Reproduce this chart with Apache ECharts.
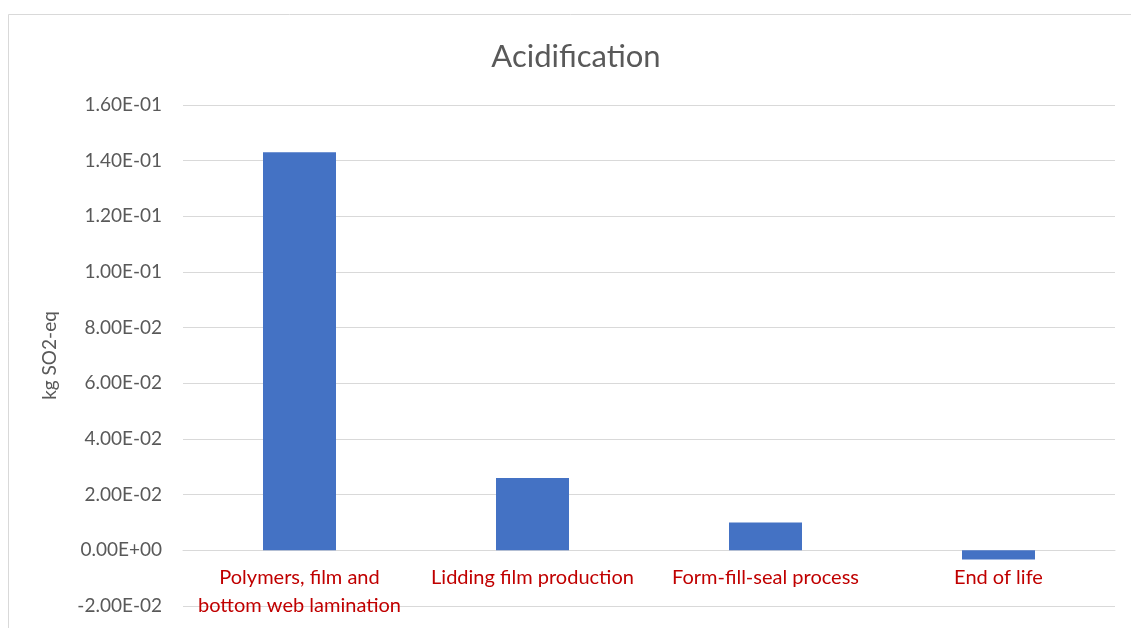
<!DOCTYPE html>
<html>
<head>
<meta charset="utf-8">
<script src="https://cdn.jsdelivr.net/npm/echarts@6/dist/echarts.min.js"></script>
<style>
  html, body { margin: 0; padding: 0; background: #fff; }
  #chart { width: 1131px; height: 628px; }
</style>
</head>
<body>
<div id="chart"></div>
<script>
// Life-cycle stages and their acidification impact (kg SO2-eq)
const stages = [
  'Polymers, film and\nbottom web lamination',
  'Lidding film production',
  'Form-fill-seal process',
  'End of life'
];
const acidification = [0.143, 0.026, 0.010, -0.0033];

const FONT = 'Lato, "Open Sans", sans-serif';

const chart = echarts.init(document.getElementById('chart'));
chart.setOption({
  backgroundColor: '#ffffff',
  animation: false,
  graphic: [{
    type: 'rect',
    shape: { x: 8.5, y: 14.5, width: 1140, height: 640 },
    style: { fill: 'none', stroke: '#d9d9d9', lineWidth: 1 },
    silent: true
  }],
  title: {
    text: 'Acidification',
    left: 571,
    top: 36,
    textAlign: 'center',
    textStyle: { fontFamily: FONT, fontSize: 31, fontWeight: 'normal', color: '#595959' }
  },
  grid: { left: 183, right: 16, top: 105, bottom: 22, containLabel: false, outerBoundsMode: 'none' },
  xAxis: {
    type: 'category',
    data: stages,
    axisLine: { onZero: true, lineStyle: { color: '#d9d9d9', width: 1 } },
    axisTick: { show: false },
    axisLabel: {
      color: '#c00000',
      fontFamily: FONT,
      fontSize: 20,
      lineHeight: 28,
      // labels sit just under the zero line rather than under the plot
      margin: -42,
      verticalAlign: 'top',
      interval: 0
    }
  },
  yAxis: {
    type: 'value',
    min: -0.02,
    max: 0.16,
    interval: 0.02,
    name: 'kg SO2-eq',
    nameLocation: 'middle',
    nameGap: 124,
    nameTextStyle: { fontFamily: FONT, fontSize: 19, color: '#595959' },
    axisLine: { show: false },
    axisTick: { show: false },
    splitLine: { lineStyle: { color: '#d9d9d9', width: 1 } },
    axisLabel: {
      color: '#595959',
      fontFamily: FONT,
      fontSize: 19,
      margin: 21,
      formatter: function (v) {
        const s = Math.abs(v) < 1e-12 ? (0).toExponential(2) : v.toExponential(2);
        // Show exponents with two digits, e.g. 1.60E-01
        return s.replace(/e([+-])(\d)$/, 'E$10$2').replace(/e([+-])(\d\d)$/, 'E$1$2');
      }
    }
  },
  series: [{
    type: 'bar',
    data: acidification,
    barWidth: 73,
    itemStyle: { color: '#4472c4' }
  }]
});
</script>
</body>
</html>
